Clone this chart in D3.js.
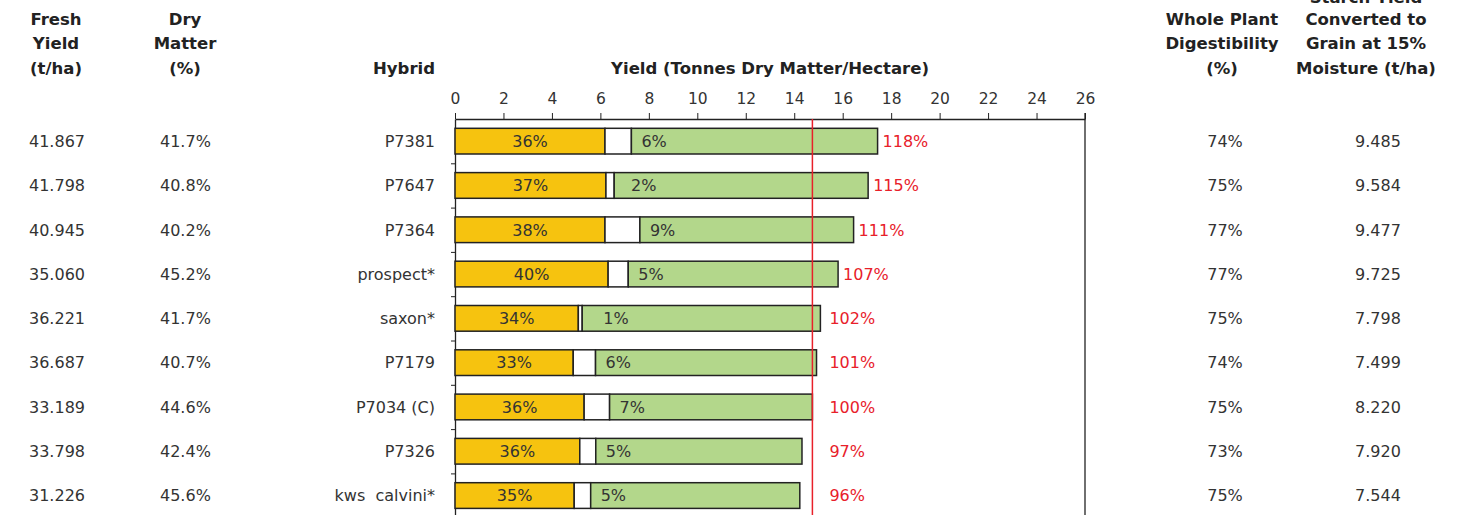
<!DOCTYPE html>
<html>
<head>
<meta charset="utf-8">
<script src="https://cdn.jsdelivr.net/npm/d3@7"></script>
<style>
  body { margin: 0; background: #fff; }
  svg { display: block; font-family: "DejaVu Sans", "Noto Sans", sans-serif; }
  .hdr { font-weight: 700; font-size: 16.5px; fill: #222; }
  .val { font-size: 16px; fill: #333; }
  .tick text { font-size: 15.5px; fill: #333; font-family: "DejaVu Sans", "Noto Sans", sans-serif; }
</style>
</head>
<body>
<svg id="chart" width="1468" height="515"></svg>
<script>
// hybrids, top to bottom
const hybrids = ['P7381', 'P7647', 'P7364', 'prospect*', 'saxon*', 'P7179', 'P7034 (C)', 'P7326', 'kws  calvini*'];
const freshYield = ['41.867', '41.798', '40.945', '35.060', '36.221', '36.687', '33.189', '33.798', '31.226'];
const dryMatter = ['41.7%', '40.8%', '40.2%', '45.2%', '41.7%', '40.7%', '44.6%', '42.4%', '45.6%'];
// bar segments, t DM/ha
const starchDM = [6.19, 6.23, 6.19, 6.32, 5.09, 4.88, 5.33, 5.15, 4.92];
const sugarDM = [1.09, 0.34, 1.44, 0.83, 0.16, 0.92, 1.05, 0.66, 0.68];
const restDM = [10.16, 10.48, 8.82, 8.66, 9.83, 9.12, 8.37, 8.51, 8.63];
// labels
const starchPct = [36, 37, 38, 40, 34, 33, 36, 36, 35];
const sugarPct = [6, 2, 9, 5, 1, 6, 7, 5, 5];
const relYield = [118, 115, 111, 107, 102, 101, 100, 97, 96];
const digestibility = [74, 75, 77, 77, 75, 74, 75, 73, 75];
const starchGrain = ['9.485', '9.584', '9.477', '9.725', '7.798', '7.499', '8.220', '7.920', '7.544'];
const xTicks = [0, 2, 4, 6, 8, 10, 12, 14, 16, 18, 20, 22, 24, 26];
const control = 'P7034 (C)';

const svg = d3.select('#chart');
const plotTop = 119, step = 44.3;
const plotBottom = plotTop + step * hybrids.length;

const x = d3.scaleLinear().domain([0, 26]).range([455, 1085]);
const y = d3.scaleBand().domain(hybrids).range([plotTop, plotBottom])
    .paddingInner(0.42).paddingOuter(0.21);
const cy = (h) => y(h) + y.bandwidth() / 2;

const rows = hybrids.map((h, i) => ({
    h: h, s0: 0, s1: starchDM[i], s2: starchDM[i] + sugarDM[i],
    s3: starchDM[i] + sugarDM[i] + restDM[i], i: i
}));

// headers (bottom line sits at y 68, lines 24.5 apart)
const headers = [
    { x: 56, anchor: 'middle', lines: ['Fresh', 'Yield', '(t/ha)'] },
    { x: 185, anchor: 'middle', lines: ['Dry', 'Matter', '(%)'] },
    { x: 435, anchor: 'end', lines: ['Hybrid'] },
    { x: 770, anchor: 'middle', lines: ['Yield (Tonnes Dry Matter/Hectare)'] },
    { x: 1222, anchor: 'middle', lines: ['Whole Plant', 'Digestibility', '(%)'] },
    { x: 1366, anchor: 'middle', lines: ['Starch Yield', 'Converted to', 'Grain at 15%', 'Moisture (t/ha)'] }
];
headers.forEach(function(hd) {
    const n = hd.lines.length;
    hd.lines.forEach(function(t, k) {
        const off = (n - 1 - k) * 24.5 - (k === 0 && n > 3 ? 3 : 0);
        svg.append('text').attr('class', 'hdr')
            .attr('x', hd.x)
            .attr('y', 68 - off)
            .attr('dy', '0.36em')
            .attr('text-anchor', hd.anchor)
            .text(t);
    });
});

// x axis on top
const xAxis = svg.append('g')
    .attr('transform', `translate(0, ${plotTop})`)
    .call(d3.axisTop(x).tickValues(xTicks).tickSize(6).tickSizeOuter(0).tickPadding(9));
xAxis.select('.domain').attr('stroke', '#222').attr('stroke-width', 1.3);
xAxis.selectAll('.tick line').attr('stroke', '#222');

// left axis with ticks between rows
const yb = d3.scaleLinear().domain([0, hybrids.length]).range([plotTop, plotBottom]);
const yAxis = svg.append('g')
    .attr('transform', `translate(${x(0)}, 0)`)
    .call(d3.axisLeft(yb).tickValues(d3.range(1, hybrids.length)).tickSize(4).tickSizeOuter(0).tickFormat(''));
yAxis.select('.domain').attr('stroke', '#222').attr('stroke-width', 1.3);
yAxis.selectAll('.tick line').attr('stroke', '#222');

// right frame
svg.append('line')
    .attr('x1', x(26)).attr('x2', x(26))
    .attr('y1', plotTop - 6).attr('y2', plotBottom)
    .attr('stroke', '#222').attr('stroke-width', 1.3);

// bars
const segs = [
    { a: 's0', b: 's1', fill: '#f6c30f' },
    { a: 's1', b: 's2', fill: '#ffffff' },
    { a: 's2', b: 's3', fill: '#b3d78b' }
];
const bars = svg.append('g');
segs.forEach(function(sg) {
    bars.selectAll(null)
        .data(rows)
        .enter()
        .append('rect')
        .attr('x', (d) => x(d[sg.a]))
        .attr('y', (d) => y(d.h))
        .attr('width', (d) => x(d[sg.b]) - x(d[sg.a]))
        .attr('height', y.bandwidth())
        .attr('fill', sg.fill)
        .attr('stroke', '#222')
        .attr('stroke-width', 1.5);
});

// control line
const ctrl = rows[hybrids.indexOf(control)];
svg.append('line')
    .attr('x1', x(ctrl.s3)).attr('x2', x(ctrl.s3))
    .attr('y1', plotTop).attr('y2', plotBottom)
    .attr('stroke', '#e8202a').attr('stroke-width', 1.5);

// labels in bars
svg.selectAll(null).data(rows).enter().append('text')
    .attr('class', 'val')
    .attr('x', (d) => (x(d.s0) + x(d.s1)) / 2)
    .attr('y', (d) => cy(d.h))
    .attr('dy', '0.36em')
    .attr('text-anchor', 'middle')
    .text((d) => starchPct[d.i] + '%');

svg.selectAll(null).data(rows).enter().append('text')
    .attr('class', 'val')
    .attr('x', (d) => Math.max(x(d.s2) + 10, x(d.s1) + 25))
    .attr('y', (d) => cy(d.h))
    .attr('dy', '0.36em')
    .text((d) => sugarPct[d.i] + '%');

svg.selectAll(null).data(rows).enter().append('text')
    .attr('class', 'val')
    .style('fill', '#e8202a')
    .attr('x', (d) => Math.max(x(d.s3) + 5, x(ctrl.s3) + 17))
    .attr('y', (d) => cy(d.h))
    .attr('dy', '0.36em')
    .text((d) => relYield[d.i] + '%');

// table columns
const cols = [
    { x: 29, anchor: 'start', vals: freshYield },
    { x: 160, anchor: 'start', vals: dryMatter },
    { x: 435, anchor: 'end', vals: hybrids },
    { x: 1225, anchor: 'middle', vals: digestibility.map((v) => v + '%') },
    { x: 1378, anchor: 'middle', vals: starchGrain }
];
cols.forEach(function(c) {
    svg.selectAll(null).data(hybrids).enter().append('text')
        .attr('class', 'val')
        .attr('x', c.x)
        .attr('y', (h) => cy(h))
        .attr('dy', '0.36em')
        .attr('text-anchor', c.anchor)
        .style('white-space', 'pre')
        .text((h, i) => c.vals[i]);
});
</script>
</body>
</html>
